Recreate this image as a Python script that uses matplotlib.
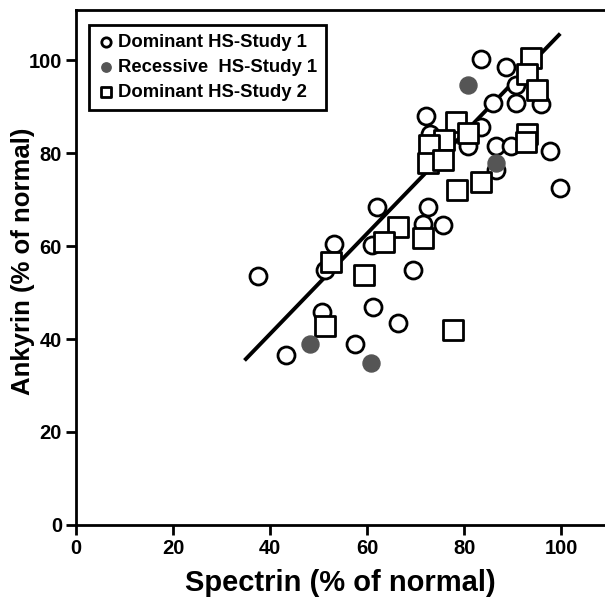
import numpy as np
import matplotlib
matplotlib.use("Agg")
import matplotlib.pyplot as plt

plt.rcParams['font.family'] = ['Liberation Sans', 'DejaVu Sans']
plt.rcParams['font.weight'] = 'bold'

# Dominant HS - Study 1 (open circles)
dom1_x = [37.5, 43.3, 50.6, 51.4, 53.2, 57.4, 61.2, 66.4, 69.5, 61.0, 62.0,
          83.5, 88.5, 90.7, 86.0, 90.6, 95.9, 72.2, 83.5, 73.0, 80.7, 86.5,
          89.7, 97.7, 86.5, 99.7, 72.6, 71.5, 75.7]
dom1_y = [53.5, 36.6, 45.9, 54.8, 60.4, 38.9, 46.8, 43.5, 54.8, 60.2, 68.4,
          100.2, 98.6, 94.6, 90.7, 90.7, 90.5, 88.0, 85.5, 84.2, 81.5, 81.5,
          81.5, 80.5, 76.3, 72.4, 68.5, 64.7, 64.5]

# Recessive HS - Study 1 (filled circles)
rec1_x = [80.8, 86.5, 48.3, 60.7]
rec1_y = [94.6, 77.8, 38.9, 34.9]

# Dominant HS - Study 2 (open squares)
dom2_x = [93.7, 92.9, 94.9, 78.4, 80.7, 75.8, 72.7, 93.0, 92.7, 72.6, 75.7,
          83.4, 78.6, 71.5, 66.3, 63.4, 52.6, 59.4, 51.4, 77.7]
dom2_y = [100.4, 97.0, 93.5, 86.7, 84.4, 82.8, 81.7, 84.1, 82.4, 77.8, 78.6,
          73.7, 72.0, 61.8, 64.0, 60.9, 56.6, 53.8, 42.8, 41.9]

# regression line end points
fit_x = [35.0, 99.5]
fit_y = [35.7, 105.4]

fig = plt.figure(figsize=(6.05, 6.09), dpi=100)
ax = fig.add_axes([0.1256, 0.138, 0.8744, 0.845])

ax.plot(fit_x, fit_y, color='black', lw=2.8, zorder=1)

ax.scatter(dom1_x, dom1_y, s=150, facecolor='white', edgecolor='black',
           linewidth=2, marker='o', zorder=2, label='Dominant HS-Study 1')
ax.scatter(rec1_x, rec1_y, s=150, facecolor='#555555', edgecolor='#555555',
           linewidth=1, marker='o', zorder=3, label='Recessive  HS-Study 1')
ax.scatter(dom2_x, dom2_y, s=190, facecolor='white', edgecolor='black',
           linewidth=2, marker='s', zorder=2, label='Dominant HS-Study 2')

ax.set_xlim(0, 109)
ax.set_ylim(0, 110.7)
ax.set_xticks([0, 20, 40, 60, 80, 100])
ax.set_yticks([0, 20, 40, 60, 80, 100])
ax.tick_params(direction='out', length=7, width=2, labelsize=14.5, pad=3)
for lab in ax.get_xticklabels() + ax.get_yticklabels():
    lab.set_fontweight('bold')

for s in ['left', 'bottom', 'top']:
    ax.spines[s].set_linewidth(2)
ax.spines['right'].set_visible(False)

ax.set_xlabel('Spectrin (% of normal)', fontsize=21, fontweight='bold', labelpad=8)
ax.set_ylabel('Ankyrin (% of normal)', fontsize=18.5, fontweight='bold')
ax.yaxis.set_label_coords(-0.078, 0.513)

leg = ax.legend(loc='upper left', bbox_to_anchor=(89 / 605, 1 - 25 / 609),
                bbox_transform=fig.transFigure, borderaxespad=0,
                fancybox=False, edgecolor='black', framealpha=1,
                prop={'size': 13.3, 'weight': 'bold'}, markerscale=0.55,
                handletextpad=0.25, handlelength=0.8, labelspacing=0.42,
                borderpad=0.5)
leg.get_frame().set_linewidth(2)

fig.savefig('out.png', dpi=100)
